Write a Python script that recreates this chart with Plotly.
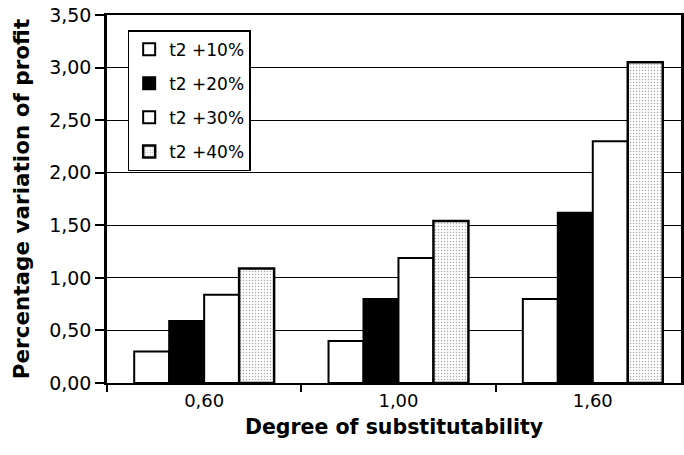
import plotly.graph_objects as go

categories = ["0,60", "1,00", "1,60"]
series_names = ["t2 +10%", "t2 +20%", "t2 +30%", "t2 +40%"]
s10 = [0.30, 0.40, 0.80]
s20 = [0.59, 0.80, 1.62]
s30 = [0.84, 1.19, 2.30]
s40 = [1.09, 1.54, 3.05]
y_ticks = [0, 0.5, 1.0, 1.5, 2.0, 2.5, 3.0, 3.5]

font_family = "DejaVu Sans, Arial, sans-serif"

fig = go.Figure()
styles = [
    dict(color="white"),
    dict(color="black"),
    dict(color="white"),
    dict(color="white", pattern=dict(shape=".", fgcolor="#555555", bgcolor="white", size=3, solidity=0.2)),
]
for i, (name, vals) in enumerate(zip(series_names, [s10, s20, s30, s40])):
    m = dict(styles[i])
    m["line"] = dict(color="black", width=2.5 if i == 3 else 2)
    fig.add_trace(go.Bar(
        x=categories, y=vals, name=name, marker=m,
        legendgroup=f"g{i}",
    ))

fig.update_layout(
    width=684, height=455,
    margin=dict(l=107, r=0, t=15, b=72),
    paper_bgcolor="white", plot_bgcolor="white",
    barmode="group", bargap=0.28, bargroupgap=0,
    separators=", ",
    font=dict(family=font_family, size=17, color="black"),
    showlegend=True,
    legend=dict(
        x=0.036, y=0.959, xanchor="left", yanchor="top",
        bgcolor="white", bordercolor="black", borderwidth=1.5,
        font=dict(size=17, family=font_family),
        traceorder="grouped", tracegroupgap=9, itemwidth=30,
    ),
    xaxis=dict(
        type="category", range=[-0.5, 2.454],
        showline=True, linecolor="black", linewidth=2, mirror=True,
        ticks="outside", tickson="boundaries", ticklen=7, tickcolor="black", tickwidth=1.5,
        tickfont=dict(size=18),
        title=dict(text="<b>Degree of substitutability</b>", font=dict(size=20.5), standoff=10),
    ),
    yaxis=dict(
        range=[0, 3.5], tickvals=y_ticks, tickformat=".2f",
        showline=True, linecolor="black", linewidth=2.5, mirror=True,
        showgrid=True, gridcolor="black", gridwidth=1,
        ticks="outside", ticklen=9, tickcolor="black", tickwidth=1.5,
        tickfont=dict(size=19),
        zeroline=False,
        title=dict(text="<b>Percentage variation of profit</b>", font=dict(size=21.5), standoff=14),
    ),
)

fig.write_html("out.html")
